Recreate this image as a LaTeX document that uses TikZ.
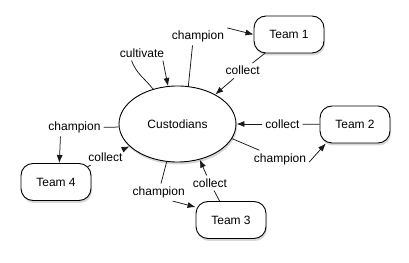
\documentclass[tikz,border=0pt]{standalone}
\usepackage{fontspec}
\setmainfont{Liberation Sans}
\usetikzlibrary{arrows.meta,shapes.geometric,shadows}
\definecolor{CusInk}{RGB}{0,0,0}
\definecolor{CusLine}{RGB}{25,25,25}
\definecolor{CusPaper}{RGB}{255,255,255}
\tikzset{
  cus/team/.style={
    draw=CusInk,
    line width=0.9pt,
    rounded corners=12pt,
    fill=CusPaper,
    drop shadow={shadow xshift=1pt,shadow yshift=-2.5pt,opacity=0.3},
    minimum width=70pt,
    minimum height=37pt,
    inner sep=0pt,
    font=\fontsize{12}{14}\selectfont
  },
  cus/hub/.style={
    ellipse,
    draw=CusInk,
    line width=0.9pt,
    fill=CusPaper,
    drop shadow={shadow xshift=1pt,shadow yshift=-2.5pt,opacity=0.3},
    minimum width=117pt,
    minimum height=76pt,
    inner sep=0pt,
    font=\fontsize{12}{14}\selectfont
  },
  cus/lbl/.style={inner sep=3pt, font=\fontsize{12}{14}\selectfont, text=CusInk},
  cus/line/.style={line width=0.75pt, draw=CusLine},
  cus/arrow/.style={-{Latex[length=8pt,width=6pt]}, line width=0.75pt, draw=CusLine}
}

\begin{document}
\begin{tikzpicture}[x=1pt,y=1pt]
  \fill[CusPaper] (0,0) rectangle (409,262);
  \node[cus/hub] (cust) at (177.5,138) {Custodians};
  \node[cus/team] (t1) at (289,227.5) {Team 1};
  \node[cus/team] (t2) at (355,137.5) {Team 2};
  \node[cus/team] (t3) at (231,42) {Team 3};
  \node[cus/team] (t4) at (56,80) {Team 4};
  % labels sitting on the connectors
  \node[cus/lbl] (cult) at (142,209) {cultivate};
  \node[cus/lbl] (ch1) at (198,225.3) {champion};
  \node[cus/lbl] (col1) at (242.7,191.3) {collect};
  \node[cus/lbl] (col2) at (282.5,138) {collect};
  \node[cus/lbl] (ch2) at (280,103) {champion};
  \node[cus/lbl] (col3) at (210,79) {collect};
  \node[cus/lbl] (ch3) at (158.7,69.7) {champion};
  \node[cus/lbl] (ch4) at (74.5,134.3) {champion};
  \node[cus/lbl] (col4) at (105.5,104.5) {collect};
  % cultivate
  \draw[cus/line] (cust.125) to[out=128,in=-70] (cult.216);
  \draw[cus/arrow] (cult.-20) -- (cust.104);
  % team 1
  \draw[cus/line] (cust.74) -- (ch1.238);
  \draw[cus/arrow] (ch1.north east) -- (t1.west);
  \draw[cus/line] (t1.218) -- (col1);
  \draw[cus/arrow] (col1) -- (cust.38);
  % team 2
  \draw[cus/line] (t2) -- (col2);
  \draw[cus/arrow] (col2) -- (cust);
  \draw[cus/line] (cust.-15) -- (ch2);
  \draw[cus/arrow] (ch2.-6) -- (t2.213);
  % team 3
  \draw[cus/line] (t3.121) -- (col3);
  \draw[cus/arrow] (col3) -- (cust.-58);
  \draw[cus/line] (cust.254) -- (ch3);
  \draw[cus/arrow] (ch3.-32) -- (t3.160);
  % team 4
  \draw[cus/line] (cust.183) -- (ch4);
  \draw[cus/arrow] (ch4.212) -- (t4.80);
  \draw[cus/line] ([shift={(-3.5pt,-3.5pt)}]t4.north east) -- (col4);
  \draw[cus/arrow] (col4) -- (cust.205);
\end{tikzpicture}
\end{document}
